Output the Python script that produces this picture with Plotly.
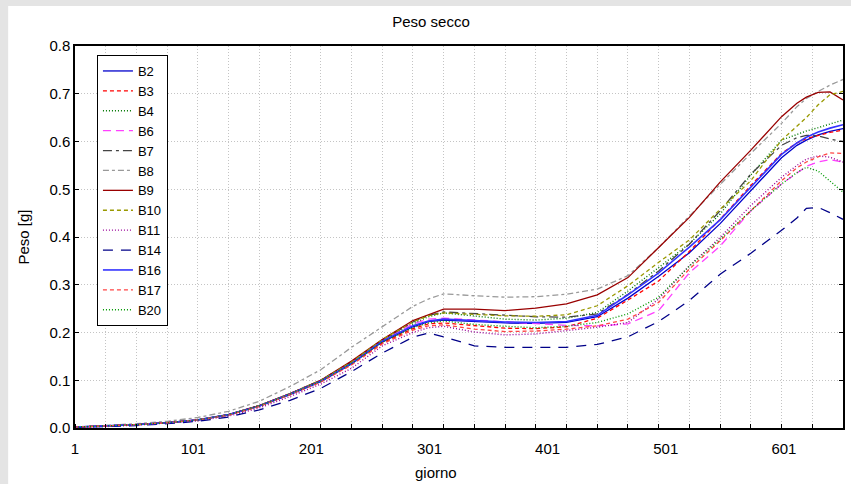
import plotly.graph_objects as go

days = [1, 27, 53, 79, 105, 131, 157, 183, 209, 235, 261, 287, 300, 313, 339, 365,
        391, 417, 443, 469, 495, 521, 547, 573, 599, 612, 620, 630, 640, 651]

B2 = [0.002, 0.004, 0.007, 0.011, 0.017, 0.028, 0.046, 0.070, 0.097, 0.134, 0.180, 0.212, 0.223, 0.226, 0.223,
      0.220, 0.219, 0.221, 0.233, 0.272, 0.318, 0.367, 0.428, 0.498, 0.566, 0.592, 0.603, 0.614, 0.621, 0.627]
B3 = [0.002, 0.004, 0.007, 0.011, 0.017, 0.028, 0.046, 0.071, 0.098, 0.134, 0.178, 0.208, 0.218, 0.220, 0.214,
      0.209, 0.208, 0.212, 0.230, 0.268, 0.308, 0.370, 0.437, 0.508, 0.575, 0.597, 0.606, 0.613, 0.619, 0.624]
B4 = [0.002, 0.004, 0.007, 0.011, 0.017, 0.028, 0.047, 0.072, 0.100, 0.138, 0.184, 0.218, 0.233, 0.241, 0.235,
      0.228, 0.226, 0.230, 0.242, 0.287, 0.336, 0.386, 0.448, 0.530, 0.603, 0.615, 0.622, 0.629, 0.637, 0.645]
B6 = [0.002, 0.004, 0.007, 0.011, 0.017, 0.028, 0.047, 0.072, 0.100, 0.138, 0.184, 0.218, 0.228, 0.230, 0.226,
      0.223, 0.219, 0.215, 0.214, 0.218, 0.246, 0.325, 0.381, 0.455, 0.511, 0.535, 0.548, 0.557, 0.562, 0.557]
B7 = [0.002, 0.004, 0.007, 0.011, 0.017, 0.028, 0.047, 0.072, 0.100, 0.138, 0.184, 0.222, 0.236, 0.243, 0.240,
      0.237, 0.233, 0.232, 0.239, 0.280, 0.329, 0.385, 0.455, 0.532, 0.592, 0.608, 0.613, 0.612, 0.605, 0.600]
B8 = [0.002, 0.005, 0.009, 0.014, 0.022, 0.035, 0.056, 0.087, 0.122, 0.169, 0.212, 0.255, 0.270, 0.281, 0.277,
      0.274, 0.275, 0.280, 0.291, 0.319, 0.378, 0.445, 0.510, 0.575, 0.638, 0.673, 0.690, 0.705, 0.718, 0.730]
B9 = [0.002, 0.004, 0.007, 0.011, 0.017, 0.028, 0.047, 0.072, 0.100, 0.140, 0.185, 0.225, 0.237, 0.249, 0.249,
      0.246, 0.251, 0.260, 0.279, 0.315, 0.378, 0.441, 0.515, 0.582, 0.652, 0.680, 0.693, 0.703, 0.704, 0.687]
B10 = [0.002, 0.004, 0.007, 0.011, 0.017, 0.028, 0.047, 0.072, 0.100, 0.138, 0.185, 0.222, 0.235, 0.241, 0.238,
       0.235, 0.234, 0.237, 0.256, 0.298, 0.347, 0.394, 0.458, 0.518, 0.603, 0.631, 0.650, 0.677, 0.698, 0.705]
B11 = [0.002, 0.003, 0.006, 0.010, 0.015, 0.025, 0.042, 0.066, 0.092, 0.125, 0.172, 0.200, 0.210, 0.213, 0.201,
       0.195, 0.197, 0.204, 0.211, 0.221, 0.270, 0.340, 0.399, 0.466, 0.525, 0.550, 0.563, 0.570, 0.567, 0.557]
B14 = [0.001, 0.003, 0.005, 0.009, 0.014, 0.023, 0.038, 0.058, 0.083, 0.118, 0.157, 0.190, 0.199, 0.191, 0.172,
       0.169, 0.169, 0.169, 0.175, 0.191, 0.223, 0.267, 0.322, 0.366, 0.414, 0.440, 0.460, 0.462, 0.451, 0.437]
B16 = [0.002, 0.004, 0.007, 0.011, 0.017, 0.028, 0.046, 0.071, 0.098, 0.135, 0.182, 0.214, 0.224, 0.228, 0.225,
       0.222, 0.221, 0.223, 0.236, 0.279, 0.325, 0.379, 0.436, 0.505, 0.573, 0.597, 0.609, 0.620, 0.628, 0.635]
B17 = [0.002, 0.004, 0.007, 0.011, 0.017, 0.027, 0.045, 0.070, 0.096, 0.132, 0.176, 0.205, 0.214, 0.216, 0.207,
       0.202, 0.203, 0.207, 0.214, 0.228, 0.263, 0.333, 0.392, 0.455, 0.518, 0.545, 0.557, 0.568, 0.576, 0.575]
B20 = [0.002, 0.004, 0.007, 0.011, 0.017, 0.028, 0.046, 0.071, 0.098, 0.135, 0.180, 0.210, 0.220, 0.224, 0.217,
       0.213, 0.210, 0.213, 0.221, 0.239, 0.274, 0.339, 0.395, 0.455, 0.511, 0.535, 0.546, 0.538, 0.518, 0.494]

x_tick_vals = [1, 101, 201, 301, 401, 501, 601]
x_tick_text = ["1", "101", "201", "301", "401", "501", "601"]

series = [
    ("B2", B2, "#0000cc", "solid", 1.3),
    ("B3", B3, "#ff0000", "4px,3px", 1.3),
    ("B4", B4, "#007700", "1px,2px", 1.4),
    ("B6", B6, "#ff40ff", "8px,5px", 1.3),
    ("B7", B7, "#444444", "9px,4px,3px,4px", 1.3),
    ("B8", B8, "#999999", "6px,3px,3px,3px", 1.3),
    ("B9", B9, "#990000", "solid", 1.3),
    ("B10", B10, "#999900", "4px,3px", 1.3),
    ("B11", B11, "#990099", "1px,2px", 1.4),
    ("B14", B14, "#000088", "10px,8px", 1.3),
    ("B16", B16, "#3333ff", "solid", 1.6),
    ("B17", B17, "#ff4444", "4px,3px", 1.3),
    ("B20", B20, "#009900", "1px,2px", 1.4),
]

fig = go.Figure()
for name, vals, col, dash, w in series:
    fig.add_trace(go.Scatter(x=days, y=vals, mode="lines", name=name,
                             line=dict(color=col, dash=dash, width=w)))

FONT = "Liberation Sans, Arial, sans-serif"
fig.update_layout(
    width=851, height=484,
    margin=dict(l=75, r=6, t=46, b=56),
    paper_bgcolor="#e4e4e4",
    plot_bgcolor="white",
    font=dict(family=FONT, size=15, color="black"),
    title=dict(text="Peso secco", x=431/851, xref="container", xanchor="center",
               y=1 - 22/484, yref="container", yanchor="middle",
               font=dict(size=15, family=FONT)),
    showlegend=True,
    legend=dict(x=(97 - 75) / 770, y=(428 - 55) / 382, xanchor="left", yanchor="top",
                bgcolor="white", bordercolor="black", borderwidth=1,
                font=dict(size=13, family=FONT), tracegroupgap=0),
    shapes=[dict(type="rect", xref="paper", yref="paper",
                 x0=(8 - 75) / 770, x1=1.05, y0=-0.3, y1=(428 - 6) / 382,
                 fillcolor="white", line=dict(width=0), layer="below")],
    annotations=[dict(text="giorno", xref="paper", yref="paper",
                      x=(437 - 75) / 770, y=(428 - 472) / 382,
                      xanchor="center", yanchor="middle", showarrow=False,
                      font=dict(size=15, family=FONT))],
)

fig.update_xaxes(
    range=[1, 651], tickmode="array", tickvals=x_tick_vals, ticktext=x_tick_text,
    showgrid=False, ticks="", zeroline=False, ticklabelstandoff=6,
    showline=True, linecolor="black", linewidth=1.5, mirror=True,
    minor=dict(tick0=1, dtick=26, showgrid=True, gridcolor="#c4c4c4", griddash="1px,2px",
               gridwidth=1, ticks="inside", ticklen=4, tickcolor="black"),
    tickfont=dict(size=15, family=FONT),
)
fig.update_yaxes(
    range=[0, 0.8], dtick=0.1, tick0=0, tickformat=".1f",
    showgrid=True, gridcolor="#c4c4c4", griddash="1px,2px", gridwidth=1,
    ticks="inside", ticklen=4, tickcolor="black", zeroline=False,
    showline=True, linecolor="black", linewidth=1.5, mirror="ticks",
    title=dict(text="Peso [g]", standoff=16, font=dict(size=15, family=FONT)),
    tickfont=dict(size=15, family=FONT),
)

fig.write_html("out.html", config={"displayModeBar": False},
               post_script="document.body.style.margin='0';")
